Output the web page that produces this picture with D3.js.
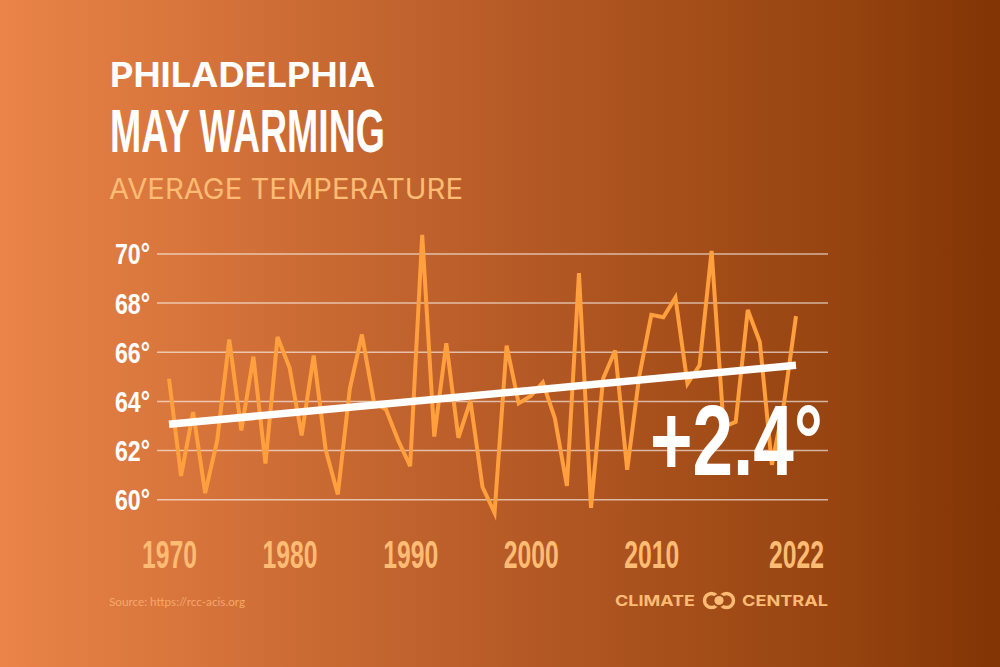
<!DOCTYPE html>
<html>
<head>
<meta charset="utf-8">
<script src="https://cdn.jsdelivr.net/npm/d3@7"></script>
<style>
  html, body { margin: 0; padding: 0; background: #b65a26; }
  svg { display: block; }
  text { font-family: "Liberation Sans Narrow", "Liberation Sans", sans-serif; }
</style>
</head>
<body>
<div id="chart"></div>
<script>
// values
var first_year = 1970;
var temps = [
    64.9, 60.95, 63.55, 60.25, 62.4, 66.5, 62.8, 65.8, 61.45, 66.6,
    65.35, 62.6, 65.85, 62.0, 60.2, 64.5, 66.7, 63.95, 63.65, 62.4,
    61.35, 70.75, 62.55, 66.35, 62.5, 64.0, 60.5, 59.45, 66.25, 63.9,
    64.2, 64.75, 63.3, 60.55, 69.2, 59.65, 64.9, 66.05, 61.2, 65.0,
    67.5, 67.4, 68.2, 64.7, 65.45, 70.1, 62.95, 63.15, 67.7, 66.4,
    61.4, 63.9, 67.45
];
var trend_years = [1970, 2022];
var trend_temps = [63.05, 65.45];
var y_ticks = [60, 62, 64, 66, 68, 70];
var x_ticks = [1970, 1980, 1990, 2000, 2010, 2022];

var width = 1000, height = 667;

var x = d3.scaleLinear().domain([1970, 2022]).range([169, 796]);
var y = d3.scaleLinear().domain([60, 70]).range([499.3, 253.4]);

var svg = d3.select('#chart').append('svg')
    .attr('width', width)
    .attr('height', height);

var grad = svg.append('defs').append('linearGradient')
    .attr('id', 'bg')
    .attr('gradientUnits', 'userSpaceOnUse')
    .attr('x1', 0).attr('x2', width).attr('y1', 0).attr('y2', 0);
grad.append('stop').attr('offset', '0').attr('stop-color', '#ea8448');
grad.append('stop').attr('offset', '0.5').attr('stop-color', '#b75b27');
grad.append('stop').attr('offset', '0.85').attr('stop-color', '#95430f');
grad.append('stop').attr('offset', '1').attr('stop-color', '#823404');

svg.append('rect')
    .attr('width', width).attr('height', height)
    .attr('fill', 'url(#bg)');

// fixed width labels, the original face is more condensed than what is installed
function label(txt, px, py, size, len, fill, weight, family) {
    return svg.append('text')
        .attr('x', px).attr('y', py)
        .attr('font-size', size)
        .attr('font-weight', weight || 700)
        .attr('fill', fill)
        .attr('textLength', len)
        .attr('lengthAdjust', 'spacingAndGlyphs')
        .style('font-family', family || null)
        .text(txt);
}

label('PHILADELPHIA', 110, 87, 34, 265, '#fff', 700, 'Inter');
label('MAY WARMING', 110, 152, 61, 275, '#fff');
label('AVERAGE TEMPERATURE', 109, 199, 28, 354, '#fdbb73', 400, 'Inter');

// y axis and grid
var y_axis = svg.append('g')
    .attr('transform', 'translate(157,0)')
    .call(d3.axisLeft(y).tickValues(y_ticks).tickSize(-671).tickPadding(0).tickFormat(function (d) { return d + '°'; }));
y_axis.select('.domain').remove();
y_axis.selectAll('line')
    .attr('stroke', '#fff')
    .attr('stroke-opacity', 0.6)
    .attr('stroke-width', 1.5);
y_axis.selectAll('text')
    .attr('x', -7)
    .attr('dy', '0.36em')
    .attr('font-size', 29)
    .attr('font-weight', 700)
    .attr('fill', '#fff')
    .attr('text-anchor', 'end')
    .attr('textLength', 35)
    .attr('lengthAdjust', 'spacingAndGlyphs');

// x axis
var x_axis = svg.append('g')
    .attr('transform', 'translate(0,568)')
    .call(d3.axisBottom(x).tickValues(x_ticks).tickSize(0).tickFormat(d3.format('d')));
x_axis.select('.domain').remove();
x_axis.selectAll('text')
    .attr('y', 0)
    .attr('dy', 0)
    .attr('font-size', 39)
    .attr('font-weight', 700)
    .attr('fill', '#fdbb73')
    .attr('text-anchor', 'middle')
    .attr('textLength', 55)
    .attr('lengthAdjust', 'spacingAndGlyphs');

var line = d3.line()
    .x(function (d, i) { return x(first_year + i); })
    .y(function (d) { return y(d); });

svg.append('path')
    .datum(temps)
    .attr('d', line)
    .attr('fill', 'none')
    .attr('stroke', '#ff9f3e')
    .attr('stroke-width', 4)
    .attr('stroke-linejoin', 'miter');

svg.append('path')
    .datum(trend_temps)
    .attr('d', d3.line()
        .x(function (d, i) { return x(trend_years[i]); })
        .y(function (d) { return y(d); }))
    .attr('fill', 'none')
    .attr('stroke', '#fff')
    .attr('stroke-width', 7.5);

label('+2.4°', 650, 475, 100, 173, '#fff');

label('Source: https://rcc-acis.org', 109, 606, 11, 136, '#f6a86c', 400, 'Lato');

// logo
label('CLIMATE', 615, 606, 15, 80, '#fdbb73', 700, 'Inter');
label('CENTRAL', 742, 606, 15, 86, '#fdbb73', 700, 'Inter');
var logo = svg.append('g').attr('transform', 'translate(719,600.5)');
logo.selectAll('circle.ring').data([-7.5, 7.5]).enter().append('circle')
    .attr('class', 'ring')
    .attr('cx', function (d) { return d; })
    .attr('r', 7)
    .attr('fill', 'none')
    .attr('stroke', '#fdbb73')
    .attr('stroke-width', 3.5);
logo.append('circle').attr('r', 6.5).attr('fill', '#9b4a18');
logo.append('circle').attr('r', 4.6).attr('fill', '#fdbb73');
</script>
</body>
</html>
